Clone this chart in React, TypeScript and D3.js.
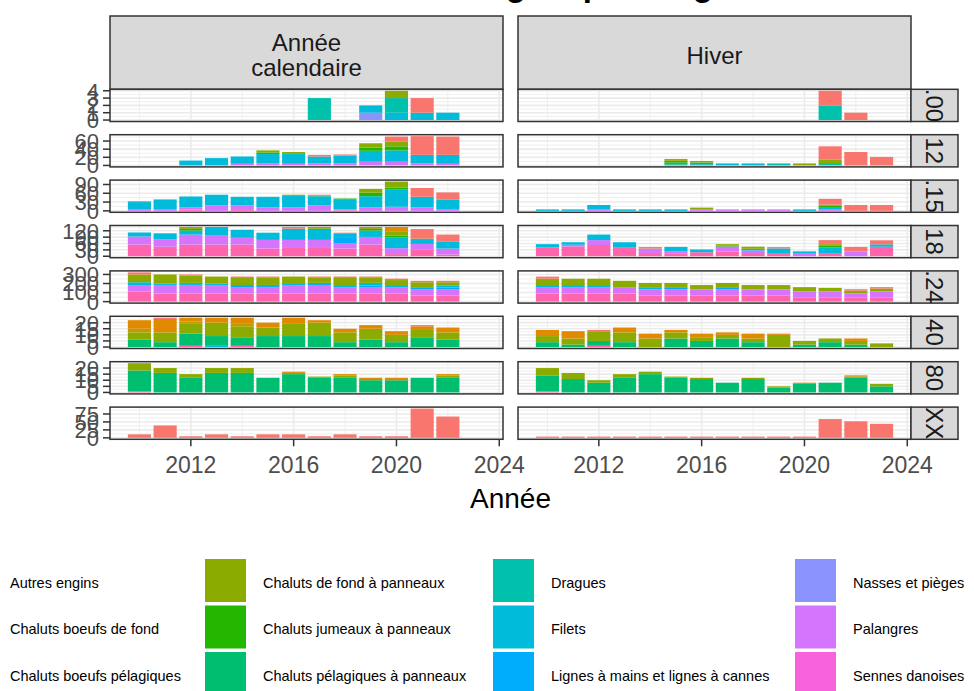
import React from "react";
import * as d3 from "d3";

// ---------- categories ----------
const gearCodes = ["AUT", "CBF", "CBP", "CFP", "CJP", "CPP", "DRG", "FIL", "LIG", "NAS", "PAL", "SDN", "STC"];
const gearLabels = [
  "Autres engins",
  "Chaluts boeufs de fond",
  "Chaluts boeufs pélagiques",
  "Chaluts de fond à panneaux",
  "Chaluts jumeaux à panneaux",
  "Chaluts pélagiques à panneaux",
  "Dragues",
  "Filets",
  "Lignes à mains et lignes à cannes",
  "Nasses et pièges",
  "Palangres",
  "Sennes danoises",
  "Sennes tournantes coulissantes",
];
const gearColors = ["#F8766D", "#E18A00", "#BE9C00", "#8CAB00", "#24B700", "#00BE70", "#00C1AB", "#00BBDA", "#00ACFC", "#8B93FF", "#D575FE", "#F962DD", "#FF65AC"];

const columnLabels = [["Année", "calendaire"], ["Hiver"]];
const rowLabels = [".00", "12", ".15", "18", ".24", "40", "80", "XX"];
const xTicks = [2012, 2016, 2020, 2024];
const xMinorTicks = [2010, 2014, 2018, 2022];
const rowTicks = [
  [0, 1, 2, 3, 4],
  [0, 20, 40, 60],
  [0, 30, 60, 90],
  [0, 30, 60, 90, 120],
  [0, 100, 200, 300],
  [0, 5, 10, 15, 20],
  [0, 5, 10, 15, 20],
  [0, 25, 50, 75],
];
const xTitle = "Année";
const title = "Évolution des engins par longueur";

// ---------- values (one array per panel) ----------
const cal00 = [
  { year: 2017, DRG: 3 },
  { year: 2019, NAS: 1, FIL: 1 },
  { year: 2020, FIL: 1, DRG: 2, CFP: 1 },
  { year: 2021, FIL: 1, AUT: 2 },
  { year: 2022, FIL: 1 },
];
const hiv00 = [
  { year: 2021, DRG: 2, AUT: 2 },
  { year: 2022, AUT: 1 },
];
const cal12 = [
  { year: 2012, FIL: 12 },
  { year: 2013, FIL: 18 },
  { year: 2014, PAL: 4, FIL: 18 },
  { year: 2015, PAL: 5, FIL: 23, CJP: 4, CFP: 5 },
  { year: 2016, PAL: 4, FIL: 24, CJP: 2, CFP: 3 },
  { year: 2017, PAL: 5, FIL: 17, AUT: 4 },
  { year: 2018, PAL: 5, FIL: 19, AUT: 3 },
  { year: 2019, PAL: 9, FIL: 27, CJP: 8, CFP: 9, AUT: 2 },
  { year: 2020, PAL: 9, FIL: 28, CJP: 10, CFP: 12, AUT: 12 },
  { year: 2021, PAL: 5, FIL: 21, AUT: 46 },
  { year: 2022, PAL: 4, FIL: 22, AUT: 45 },
];
const hiv12 = [
  { year: 2015, FIL: 2, CPP: 5, CJP: 4, CFP: 2, CBF: 3 },
  { year: 2016, FIL: 3, CPP: 4, CFP: 4 },
  { year: 2017, FIL: 5 },
  { year: 2018, FIL: 5 },
  { year: 2019, DRG: 5 },
  { year: 2020, CFP: 5 },
  { year: 2021, DRG: 4, CJP: 2, CFP: 9, AUT: 32 },
  { year: 2022, AUT: 33 },
  { year: 2023, AUT: 21 },
];
const cal15 = [
  { year: 2010, PAL: 6, FIL: 24, AUT: 3 },
  { year: 2011, PAL: 6, FIL: 33 },
  { year: 2012, STC: 4, PAL: 8, FIL: 37 },
  { year: 2013, PAL: 19, FIL: 36 },
  { year: 2014, STC: 6, PAL: 13, FIL: 29 },
  { year: 2015, PAL: 12, FIL: 36 },
  { year: 2016, PAL: 12, FIL: 39, CFP: 4 },
  { year: 2017, PAL: 19, FIL: 31, CFP: 3, AUT: 2 },
  { year: 2018, STC: 2, PAL: 3, FIL: 33, CJP: 4 },
  { year: 2019, PAL: 12, FIL: 38, CJP: 12, CFP: 13 },
  { year: 2020, NAS: 4, PAL: 10, FIL: 60, CJP: 6, CFP: 20 },
  { year: 2021, PAL: 12, FIL: 36, AUT: 30 },
  { year: 2022, PAL: 6, FIL: 33, AUT: 24 },
];
const hiv15 = [
  { year: 2010, FIL: 5 },
  { year: 2011, FIL: 5 },
  { year: 2012, PAL: 6, FIL: 14 },
  { year: 2013, FIL: 5 },
  { year: 2014, FIL: 5 },
  { year: 2015, FIL: 5 },
  { year: 2016, PAL: 6, CFP: 5 },
  { year: 2017, PAL: 5 },
  { year: 2018, PAL: 5 },
  { year: 2019, PAL: 5 },
  { year: 2020, FIL: 5 },
  { year: 2021, PAL: 6, FIL: 7, CJP: 4, CFP: 4, AUT: 20 },
  { year: 2022, AUT: 20 },
  { year: 2023, AUT: 20 },
];
const cal18 = [
  { year: 2010, STC: 55, PAL: 38, FIL: 19 },
  { year: 2011, STC: 45, PAL: 34, FIL: 26, AUT: 4 },
  { year: 2012, STC: 55, PAL: 47, FIL: 19, CJP: 8, CFP: 9 },
  { year: 2013, STC: 55, PAL: 45, FIL: 38 },
  { year: 2014, STC: 55, PAL: 32, FIL: 38 },
  { year: 2015, STC: 36, PAL: 41, FIL: 34 },
  { year: 2016, STC: 43, PAL: 34, FIL: 53, AUT: 8 },
  { year: 2017, STC: 43, PAL: 34, FIL: 47, CJP: 6, CFP: 8 },
  { year: 2018, STC: 36, PAL: 26, LIG: 28, FIL: 15, AUT: 6 },
  { year: 2019, STC: 55, PAL: 36, FIL: 30, CJP: 8, CFP: 9 },
  { year: 2020, STC: 10, PAL: 28, FIL: 50, CJP: 10, CFP: 20, CBF: 20 },
  { year: 2021, STC: 30, PAL: 28, FIL: 23, CJP: 2, AUT: 45 },
  { year: 2022, STC: 8, PAL: 28, FIL: 32, AUT: 34 },
];
const hiv18 = [
  { year: 2010, STC: 42, FIL: 15 },
  { year: 2011, STC: 46, PAL: 8, FIL: 12 },
  { year: 2012, STC: 53, PAL: 23, FIL: 26 },
  { year: 2013, STC: 43, FIL: 23 },
  { year: 2014, STC: 15, PAL: 22, CBF: 6 },
  { year: 2015, STC: 14, PAL: 10, FIL: 20 },
  { year: 2016, STC: 19, FIL: 13 },
  { year: 2017, STC: 23, PAL: 23, CJP: 5, CFP: 6 },
  { year: 2018, STC: 15, PAL: 12, FIL: 8, CFP: 10 },
  { year: 2019, STC: 15, FIL: 22, AUT: 6 },
  { year: 2020, PAL: 12, FIL: 11 },
  { year: 2021, STC: 15, FIL: 26, CJP: 8, CFP: 8, AUT: 19 },
  { year: 2022, PAL: 23, AUT: 21 },
  { year: 2023, STC: 45, FIL: 11, AUT: 19 },
];
const cal24 = [
  { year: 2010, STC: 113, PAL: 70, FIL: 31, CFP: 86, AUT: 23 },
  { year: 2011, STC: 90, PAL: 94, FIL: 16, CFP: 100 },
  { year: 2012, STC: 90, PAL: 94, FIL: 23, CFP: 82, AUT: 11 },
  { year: 2013, STC: 90, PAL: 86, FIL: 23, CFP: 78 },
  { year: 2014, STC: 90, PAL: 70, LIG: 23, CFP: 78, AUT: 16 },
  { year: 2015, STC: 90, PAL: 70, LIG: 12, FIL: 12, CFP: 78, AUT: 15 },
  { year: 2016, STC: 90, PAL: 86, FIL: 19, CFP: 82 },
  { year: 2017, STC: 90, PAL: 94, LIG: 23, CFP: 55, AUT: 15 },
  { year: 2018, STC: 90, PAL: 70, FIL: 23, CFP: 78, AUT: 16 },
  { year: 2019, STC: 90, PAL: 70, LIG: 20, FIL: 27, CFP: 55, AUT: 15 },
  { year: 2020, STC: 90, PAL: 70, FIL: 23, CFP: 55, AUT: 16 },
  { year: 2021, STC: 66, PAL: 70, LIG: 23, CFP: 55, AUT: 16 },
  { year: 2022, STC: 66, PAL: 70, LIG: 20, FIL: 19, CFP: 39, AUT: 16 },
];
const hiv24 = [
  { year: 2010, STC: 90, PAL: 70, FIL: 23, CFP: 70, AUT: 23 },
  { year: 2011, STC: 90, PAL: 70, FIL: 23, CFP: 70 },
  { year: 2012, STC: 90, PAL: 70, FIL: 23, CFP: 70 },
  { year: 2013, STC: 90, PAL: 70, CFP: 70 },
  { year: 2014, STC: 66, PAL: 70, FIL: 23, CFP: 47 },
  { year: 2015, STC: 66, PAL: 70, LIG: 23, CFP: 47 },
  { year: 2016, STC: 66, PAL: 70, CFP: 47 },
  { year: 2017, STC: 66, PAL: 70, LIG: 23, CFP: 47 },
  { year: 2018, STC: 66, PAL: 70, CFP: 47 },
  { year: 2019, STC: 66, PAL: 70, CFP: 47 },
  { year: 2020, STC: 43, PAL: 70, CFP: 47 },
  { year: 2021, STC: 43, PAL: 70, CFP: 39 },
  { year: 2022, STC: 43, PAL: 47, CFP: 31, AUT: 16 },
  { year: 2023, STC: 43, PAL: 70, CFP: 31, AUT: 16 },
];
const cal40 = [
  { year: 2010, CPP: 6, CFP: 6, CBP: 3, CBF: 7 },
  { year: 2011, CPP: 4, CFP: 8, CBF: 11, AUT: 1 },
  { year: 2012, STC: 1, CPP: 10, CFP: 8, CBP: 2, CBF: 3 },
  { year: 2013, FIL: 1, CPP: 8, CFP: 11, CBF: 4 },
  { year: 2014, STC: 1, CPP: 7, CFP: 9, CBP: 2, CBF: 5 },
  { year: 2015, CPP: 9, CFP: 7, CBF: 4 },
  { year: 2016, CPP: 9, CFP: 10, CBF: 5 },
  { year: 2017, CPP: 9, CFP: 11, CBF: 2 },
  { year: 2018, CPP: 4, CFP: 8, CBF: 3 },
  { year: 2019, CPP: 6, CFP: 9, CBF: 3 },
  { year: 2020, CPP: 4, CFP: 6, CBF: 3 },
  { year: 2021, CPP: 8, CFP: 6, CBF: 3, AUT: 1 },
  { year: 2022, CPP: 6, CFP: 6, CBF: 4 },
];
const hiv40 = [
  { year: 2010, CPP: 4, CFP: 5, CBF: 5 },
  { year: 2011, CPP: 2, CFP: 5, CBF: 6 },
  { year: 2012, STC: 1, CPP: 4, CFP: 8, AUT: 1 },
  { year: 2013, CPP: 4, CFP: 8, CBF: 4 },
  { year: 2014, CFP: 7, CBF: 4 },
  { year: 2015, CPP: 7, CFP: 5, CBF: 2 },
  { year: 2016, CPP: 5, CFP: 3, CBF: 3 },
  { year: 2017, CPP: 7, CFP: 3, CBF: 2 },
  { year: 2018, CPP: 4, CFP: 3, CBF: 4 },
  { year: 2019, CFP: 10, CBF: 1 },
  { year: 2020, CPP: 2, CFP: 3 },
  { year: 2021, CPP: 4, CFP: 3 },
  { year: 2022, CPP: 2, CFP: 3, CBF: 2 },
  { year: 2023, CFP: 3 },
];
const cal80 = [
  { year: 2010, STC: 1, CPP: 17, CFP: 6 },
  { year: 2011, CPP: 16, CFP: 4 },
  { year: 2012, CPP: 12, CFP: 3 },
  { year: 2013, CPP: 16, CFP: 4 },
  { year: 2014, CPP: 16, CFP: 4 },
  { year: 2015, CPP: 12 },
  { year: 2016, CPP: 15, CFP: 1, CBF: 1 },
  { year: 2017, CPP: 12, CFP: 1 },
  { year: 2018, CPP: 12, CFP: 2, CBF: 1 },
  { year: 2019, CPP: 10, CFP: 1, CBF: 1 },
  { year: 2020, CPP: 10, CBF: 2 },
  { year: 2021, CPP: 12 },
  { year: 2022, CPP: 12, CFP: 2, CBF: 1 },
];
const hiv80 = [
  { year: 2010, STC: 1, CPP: 13, CFP: 6 },
  { year: 2011, CPP: 11, CFP: 5 },
  { year: 2012, CPP: 8, CFP: 2 },
  { year: 2013, CPP: 12, CFP: 3 },
  { year: 2014, CPP: 15, CFP: 2 },
  { year: 2015, CPP: 12, CFP: 1 },
  { year: 2016, CPP: 11, CFP: 1 },
  { year: 2017, CPP: 8 },
  { year: 2018, CPP: 11, CFP: 1 },
  { year: 2019, CPP: 4, CFP: 1 },
  { year: 2020, CPP: 7, CBF: 1 },
  { year: 2021, CPP: 8 },
  { year: 2022, CPP: 12, CFP: 1, CBF: 1 },
  { year: 2023, CPP: 5, CFP: 2 },
];
const calXX = [
  { year: 2010, AUT: 11 },
  { year: 2011, AUT: 39 },
  { year: 2012, AUT: 5 },
  { year: 2013, AUT: 11 },
  { year: 2014, AUT: 5 },
  { year: 2015, AUT: 11 },
  { year: 2016, AUT: 11 },
  { year: 2017, AUT: 5 },
  { year: 2018, AUT: 11 },
  { year: 2019, AUT: 5 },
  { year: 2020, AUT: 5 },
  { year: 2021, AUT: 92 },
  { year: 2022, AUT: 67 },
];
const hivXX = [
  { year: 2010, AUT: 4 },
  { year: 2011, AUT: 4 },
  { year: 2012, AUT: 4 },
  { year: 2013, AUT: 4 },
  { year: 2014, AUT: 4 },
  { year: 2015, AUT: 4 },
  { year: 2016, AUT: 4 },
  { year: 2017, AUT: 4 },
  { year: 2018, AUT: 4 },
  { year: 2019, AUT: 4 },
  { year: 2020, AUT: 4 },
  { year: 2021, AUT: 59 },
  { year: 2022, AUT: 52 },
  { year: 2023, AUT: 44 },
];

const panels: any[][][] = [
  [cal00, hiv00],
  [cal12, hiv12],
  [cal15, hiv15],
  [cal18, hiv18],
  [cal24, hiv24],
  [cal40, hiv40],
  [cal80, hiv80],
  [calXX, hivXX],
];

// ---------- layout ----------
const W = 974;
const H = 691;
const panelLeft = [110, 518];
const panelW = 393;
const stripTop = 16;
const rowTop0 = 89.3;
const rowPitch = 45.4;
const rowH = 32.2;
const rightStripW = 47;
const FONT = "'Liberation Sans', Arial, Helvetica, sans-serif";
const legendColX = [-48, 205, 493, 795, 1095];
const legendRowY = [559, 605.5, 652];
const keyW = 41;
const keyH = 43;

const stackOrder = [...gearCodes].reverse(); // last level at bottom (ggplot)

export default function App() {
  const allYears = panels.flat(2).map((d: any) => d.year as number);
  const yMin = (d3.min(allYears) as number) - 0.45;
  const yMax = (d3.max(allYears) as number) + 0.45;
  const span = yMax - yMin;
  const xDomain: [number, number] = [yMin - 0.05 * span, yMax + 0.05 * span];
  const xScales = panelLeft.map((l) => d3.scaleLinear().domain(xDomain).range([l, l + panelW]));
  const bandW = xScales[0](0.9) - xScales[0](0);

  const stacker = d3
    .stack<any>()
    .keys(stackOrder)
    .value((d: any, k: string) => d[k] || 0);

  const panelBottom = rowTop0 + 7 * rowPitch + rowH;
  const stripRightX = panelLeft[1] + panelW;

  const rows = panels.map((cols, r) => {
    const top = rowTop0 + r * rowPitch;
    const bottom = top + rowH;
    const maxTot = d3.max(cols.flat(), (d: any) => d3.sum(gearCodes, (k) => d[k] || 0)) as number;
    const y = d3.scaleLinear().domain([-0.05 * maxTot, 1.05 * maxTot]).range([bottom, top]);
    const ticks = rowTicks[r];
    const step = ticks[1] - ticks[0];
    const minor = d3
      .range(ticks[0] - step / 2, ticks[ticks.length - 1] + step, step)
      .filter((v) => v > y.domain()[0] && v < y.domain()[1]);
    return { r, top, bottom, y, ticks, minor, cols };
  });

  return (
    <svg
      width={W}
      height={H}
      style={{ position: "absolute", left: 0, top: 0, background: "#fff" }}
      fontFamily={FONT}
    >
      <rect x={0} y={0} width={W} height={H} fill="#fff" />
      {/* title (mostly cut off at the top) */}
      <text x={513} y={-4} textAnchor="middle" fontSize={33} fontWeight="bold" fill="#000">
        {title}
      </text>

      {/* column strips */}
      {columnLabels.map((lines, c) => (
        <g key={"cs" + c}>
          <rect
            x={panelLeft[c]}
            y={stripTop}
            width={panelW}
            height={rowTop0 - stripTop}
            fill="#D9D9D9"
            stroke="#333333"
            strokeWidth={1.5}
          />
          {lines.map((t, i) => (
            <text
              key={i}
              x={panelLeft[c] + panelW / 2}
              y={(stripTop + rowTop0) / 2 + (i - (lines.length - 1) / 2) * 25 + 11}
              textAnchor="middle"
              fontSize={24}
              fill="#1A1A1A"
            >
              {t}
            </text>
          ))}
        </g>
      ))}

      {rows.map(({ r, top, bottom, y, ticks, minor, cols }) => (
        <g key={"row" + r}>
          {cols.map((data, c) => {
            const x = xScales[c];
            const series = stacker(data);
            return (
              <g key={"p" + c}>
                <rect x={panelLeft[c]} y={top} width={panelW} height={rowH} fill="#fff" />
                {minor.map((v) => (
                  <line key={"hm" + v} x1={panelLeft[c]} x2={panelLeft[c] + panelW} y1={y(v)} y2={y(v)} stroke="#EBEBEB" strokeWidth={0.8} />
                ))}
                {xMinorTicks.map((v) => (
                  <line key={"vm" + v} x1={x(v)} x2={x(v)} y1={top} y2={bottom} stroke="#EBEBEB" strokeWidth={0.8} />
                ))}
                {ticks.map((v) => (
                  <line key={"hM" + v} x1={panelLeft[c]} x2={panelLeft[c] + panelW} y1={y(v)} y2={y(v)} stroke="#EBEBEB" strokeWidth={1.6} />
                ))}
                {xTicks.map((v) => (
                  <line key={"vM" + v} x1={x(v)} x2={x(v)} y1={top} y2={bottom} stroke="#EBEBEB" strokeWidth={1.6} />
                ))}
                {series.map((s) => {
                  const gi = gearCodes.indexOf(s.key);
                  return s.map((seg, i) =>
                    seg[1] - seg[0] > 0 ? (
                      <rect
                        key={s.key + i}
                        x={x(seg.data.year) - bandW / 2}
                        y={y(seg[1])}
                        width={bandW}
                        height={y(seg[0]) - y(seg[1])}
                        fill={gearColors[gi]}
                      />
                    ) : null
                  );
                })}
                <rect x={panelLeft[c]} y={top} width={panelW} height={rowH} fill="none" stroke="#333333" strokeWidth={1.5} />
              </g>
            );
          })}
          {/* y axis */}
          {ticks.map((v) => (
            <g key={"yt" + v}>
              <line x1={panelLeft[0] - 7} x2={panelLeft[0]} y1={y(v)} y2={y(v)} stroke="#333333" strokeWidth={1.5} />
              <text x={panelLeft[0] - 11} y={y(v)} dy="0.36em" textAnchor="end" fontSize={22} fill="#4D4D4D">
                {v}
              </text>
            </g>
          ))}
          {/* row strip */}
          <rect x={stripRightX} y={top} width={rightStripW} height={rowH} fill="#D9D9D9" stroke="#333333" strokeWidth={1.5} />
          <text
            transform={`translate(${stripRightX + rightStripW / 2},${top + rowH / 2}) rotate(90)`}
            textAnchor="middle"
            dy="0.36em"
            fontSize={24}
            fill="#1A1A1A"
          >
            {rowLabels[r]}
          </text>
        </g>
      ))}

      {/* x axes */}
      {xScales.map((x, c) => (
        <g key={"xa" + c}>
          {xTicks.map((v) => (
            <g key={v}>
              <line x1={x(v)} x2={x(v)} y1={panelBottom} y2={panelBottom + 7} stroke="#333333" strokeWidth={1.5} />
              <text x={x(v)} y={panelBottom + 34} textAnchor="middle" fontSize={23} fill="#4D4D4D">
                {v}
              </text>
            </g>
          ))}
        </g>
      ))}
      <text x={(panelLeft[0] + stripRightX) / 2} y={508} textAnchor="middle" fontSize={28} fill="#000">
        {xTitle}
      </text>

      {/* legend (3 rows, filled by column) */}
      {gearCodes.map((code, i) => {
        const col = Math.floor(i / 3);
        const row = i % 3;
        const kx = legendColX[col];
        const ky = legendRowY[row];
        return (
          <g key={"lg" + code}>
            <rect x={kx} y={ky} width={keyW} height={keyH} fill={gearColors[i]} />
            <text x={kx + keyW + 17} y={ky + keyH / 2 + 2} dy="0.36em" fontSize={14.5} fill="#000">
              {gearLabels[i]}
            </text>
          </g>
        );
      })}
    </svg>
  );
}
